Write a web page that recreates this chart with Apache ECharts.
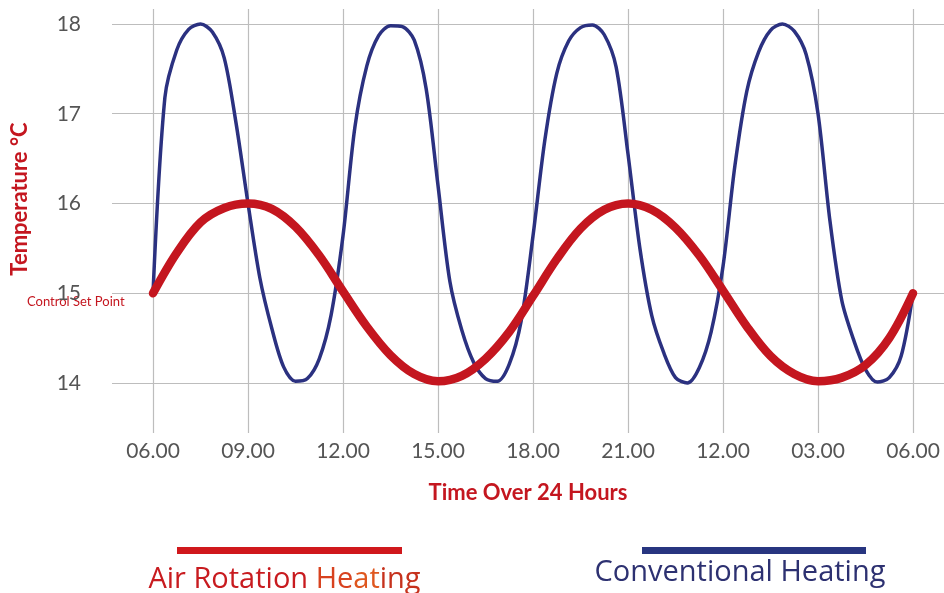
<!DOCTYPE html>
<html>
<head>
<meta charset="utf-8">
<script src="https://cdn.jsdelivr.net/npm/echarts@6/dist/echarts.min.js"></script>
<style>
  html, body { margin: 0; padding: 0; background: #fff; }
  #chart { width: 944px; height: 593px; }
</style>
</head>
<body>
<div id="chart"></div>
<script>
// x positions are category slots (0 = first 06.00, 8 = last 06.00)
const timeLabels = ['06.00', '09.00', '12.00', '15.00', '18.00', '21.00', '12.00', '03.00', '06.00'];
const tempTicks = [14, 15, 16, 17, 18];

// Air Rotation Heating, read every quarter slot
const airHours = [0, 0.25, 0.5, 0.75, 1, 1.25, 1.5, 1.75, 2, 2.25, 2.5, 2.75, 3, 3.25, 3.5, 3.75, 4,
  4.25, 4.5, 4.75, 5, 5.25, 5.5, 5.75, 6, 6.25, 6.5, 6.75, 7, 7.25, 7.5, 7.75, 8];
const airTemps = [15, 15.45, 15.79, 15.95, 16, 15.94, 15.74, 15.42, 15.02, 14.63, 14.31, 14.1, 14.02, 14.08, 14.27, 14.57, 14.97,
  15.38, 15.72, 15.93, 16, 15.93, 15.73, 15.42, 15.03, 14.63, 14.3, 14.1, 14.02, 14.06, 14.2, 14.5, 15];

// Conventional Heating, read every eighth of a slot
const convHours = [0, 0.125, 0.25, 0.375, 0.5, 0.625, 0.75, 0.875, 1, 1.125, 1.25, 1.375, 1.5, 1.625, 1.75, 1.875,
  2, 2.125, 2.25, 2.375, 2.5, 2.625, 2.75, 2.875, 3, 3.125, 3.25, 3.375, 3.5, 3.625, 3.75, 3.875,
  4, 4.125, 4.25, 4.375, 4.5, 4.625, 4.75, 4.875, 5, 5.125, 5.25, 5.375, 5.5, 5.625, 5.75, 5.875,
  6, 6.125, 6.25, 6.375, 6.5, 6.625, 6.75, 6.875, 7, 7.125, 7.25, 7.375, 7.5, 7.625, 7.75, 7.875, 8];
const convTemps = [15, 17.18, 17.71, 17.94, 18, 17.91, 17.62, 16.89, 16.0, 15.17, 14.61, 14.18, 14.02, 14.05, 14.27, 14.76,
  15.64, 16.85, 17.53, 17.87, 17.98, 17.97, 17.82, 17.28, 16.2, 15.13, 14.59, 14.23, 14.05, 14.02, 14.21, 14.69,
  15.64, 16.71, 17.45, 17.81, 17.96, 17.99, 17.88, 17.52, 16.55, 15.5, 14.75, 14.34, 14.06, 14.0, 14.17, 14.57,
  15.3, 16.42, 17.25, 17.69, 17.93, 18.0, 17.92, 17.66, 17.0, 15.81, 14.92, 14.48, 14.15, 14.01, 14.06, 14.3, 15];

const RED = '#c4161f';
const BLUE = '#2b3180';

function pairs(xs, ys) {
  return xs.map((x, i) => [x, ys[i]]);
}

const chart = echarts.init(document.getElementById('chart'), null, { renderer: 'canvas' });

const option = {
  backgroundColor: '#ffffff',
  animation: false,
  grid: { left: 112, right: 0, top: 9, bottom: 160 },
  xAxis: {
    type: 'value',
    min: -0.4316,
    max: 8.326,
    axisLine: { show: false },
    axisTick: { show: false, customValues: [0, 1, 2, 3, 4, 5, 6, 7, 8] },
    axisLabel: {
      customValues: [0, 1, 2, 3, 4, 5, 6, 7, 8],
      formatter: v => timeLabels[Math.round(v)],
      color: '#555',
      fontFamily: 'Lato',
      fontSize: 21,
      margin: 8
    },
    splitLine: { show: true, lineStyle: { color: '#bdbdbd', width: 1.2 } },
    name: 'Time Over 24 Hours',
    nameLocation: 'middle',
    nameGap: 49,
    nameTextStyle: { color: RED, fontFamily: 'Lato', fontWeight: 'bold', fontSize: 22 }
  },
  yAxis: {
    type: 'value',
    min: 13.443,
    max: 18.167,
    axisLine: { show: false },
    axisTick: { show: false, customValues: tempTicks },
    axisLabel: {
      customValues: tempTicks,
      color: '#555',
      fontFamily: 'Lato',
      fontSize: 21,
      margin: 31,
      padding: [0, 0, 8, 0]
    },
    splitLine: { show: true, lineStyle: { color: '#bdbdbd', width: 1.2 } }
  },
  series: [
    {
      name: 'Conventional Heating',
      type: 'line',
      data: pairs(convHours, convTemps),
      smooth: 0.3,
      showSymbol: false,
      lineStyle: { color: BLUE, width: 3.5 },
      z: 2
    },
    {
      name: 'Air Rotation Heating',
      type: 'line',
      data: pairs(airHours, airTemps),
      smooth: 0.35,
      showSymbol: false,
      lineStyle: { color: RED, width: 8.5, cap: 'round' },
      z: 3
    }
  ],
  graphic: [
    {
      type: 'text', x: 20, y: 199, rotation: Math.PI / 2,
      style: { text: 'Temperature °C', fill: RED, font: 'bold 22px Lato', align: 'center', verticalAlign: 'middle' }
    },
    {
      type: 'text', x: 27, y: 302,
      style: { text: 'Control Set Point', fill: RED, font: '13px Lato', align: 'left', verticalAlign: 'middle' }
    },
    { type: 'rect', shape: { x: 177, y: 547, width: 225, height: 7 }, style: { fill: '#d0181c' } },
    { type: 'rect', shape: { x: 642, y: 547, width: 224, height: 7 }, style: { fill: '#283580' } },
    {
      type: 'text', x: 284.5, y: 580,
      style: {
        text: '{a|Air Rotation }{b|He}{c|at}{d|ing}',
        align: 'center', verticalAlign: 'middle',
        rich: {
          a: { fill: '#c81b1f', font: '29px "Open Sans"' },
          b: { fill: '#d8421f', font: '29px "Open Sans"' },
          c: { fill: '#df571f', font: '29px "Open Sans"' },
          d: { fill: '#c6321d', font: '29px "Open Sans"' }
        }
      }
    },
    {
      type: 'text', x: 740, y: 573,
      style: { text: 'Conventional Heating', fill: '#2d3171', font: '29px "Open Sans"', align: 'center', verticalAlign: 'middle' }
    }
  ]
};

chart.setOption(option);
</script>
</body>
</html>
